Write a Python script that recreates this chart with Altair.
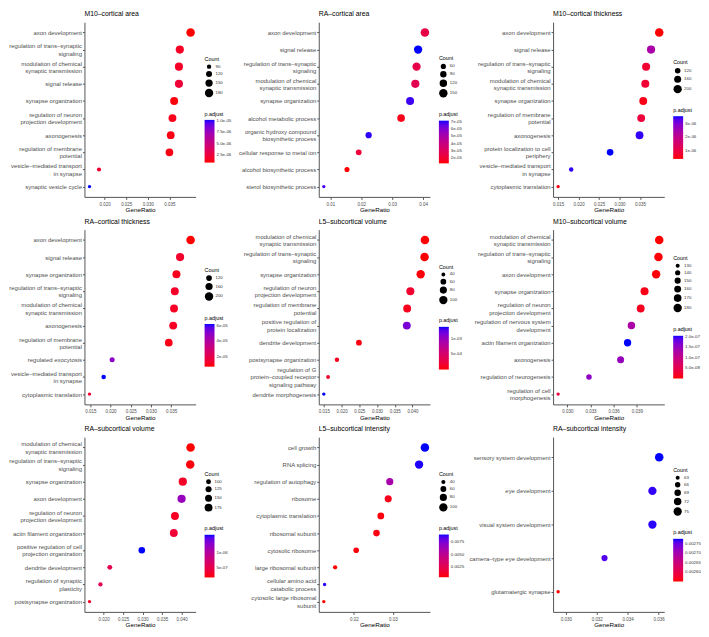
import math
import altair as alt
import pandas as pd

# ---------------- data ----------------
titles = ["M10–cortical area", "RA–cortical area", "M10–cortical thickness",
          "RA–cortical thickness", "L5–subcortical volume", "M10–subcortical volume",
          "RA–subcortical volume", "L5–subcortical intensity", "RA–subcortical intensity"]

terms_1 = ["axon development", "regulation of trans–synaptic|signaling",
           "modulation of chemical|synaptic transmission", "signal release",
           "synapse organization", "regulation of neuron|projection development",
           "axonogenesis", "regulation of membrane|potential",
           "vesicle–mediated transport|in synapse", "synaptic vesicle cycle"]
ratio_1 = [0.0399, 0.0374, 0.0372, 0.0372, 0.0361, 0.0357, 0.0353, 0.0350, 0.0187, 0.0165]
count_1 = [185, 174, 173, 173, 168, 166, 164, 162, 87, 77]
padj_1 = [8e-07, 1.6e-06, 1.6e-06, 2.2e-06, 1.0e-06, 1.3e-06, 1.1e-06, 1.2e-06, 2.0e-06, 1.02e-05]

terms_2 = ["axon development", "signal release", "regulation of trans–synaptic|signaling",
           "modulation of chemical|synaptic transmission", "synapse organization",
           "alcohol metabolic process", "organic hydroxy compound|biosynthetic process",
           "cellular response to metal ion", "alcohol biosynthetic process",
           "sterol biosynthetic process"]
ratio_2 = [0.0406, 0.0384, 0.0379, 0.0375, 0.0358, 0.0329, 0.0224, 0.0192, 0.0154, 0.0079]
count_2 = [155, 147, 145, 143, 137, 126, 86, 73, 59, 30]
padj_2 = [2.6e-05, 7.13e-05, 2.6e-05, 2.8e-05, 6.9e-05, 1.6e-05, 7.0e-05, 2.3e-05, 1.33e-05, 6.8e-05]

terms_3 = ["axon development", "signal release", "regulation of trans–synaptic|signaling",
           "modulation of chemical|synaptic transmission", "synapse organization",
           "regulation of membrane|potential", "axonogenesis",
           "protein localization to cell|periphery", "vesicle–mediated transport|in synapse",
           "cytoplasmic translation"]
ratio_3 = [0.0397, 0.0377, 0.0365, 0.0363, 0.0358, 0.0353, 0.0349, 0.0277, 0.0182, 0.0150]
count_3 = [210, 199, 193, 192, 189, 187, 185, 147, 96, 79]
padj_3 = [3.7e-07, 2.4e-06, 8e-07, 8e-07, 5e-07, 9e-07, 3.5e-06, 3.58e-06, 3.5e-06, 4.5e-07]

terms_4 = ["axon development", "signal release", "synapse organization",
           "regulation of trans–synaptic|signaling", "modulation of chemical|synaptic transmission",
           "axonogenesis", "regulation of membrane|potential", "regulated exocytosis",
           "vesicle–mediated transport|in synapse", "cytoplasmic translation"]
ratio_4 = [0.0398, 0.0372, 0.0363, 0.0359, 0.0357, 0.0355, 0.0344, 0.0204, 0.0183, 0.0148]
count_4 = [205, 192, 187, 185, 184, 183, 177, 105, 94, 76]
padj_4 = [6.7e-06, 1.3e-05, 1.0e-05, 1.2e-05, 1.1e-05, 1.1e-05, 9e-06, 5.0e-05, 6.3e-05, 1.4e-05]

terms_5 = ["modulation of chemical|synaptic transmission", "regulation of trans–synaptic|signaling",
           "synapse organization", "regulation of neuron|projection development",
           "regulation of membrane|potential", "positive regulation of|protein localization",
           "dendrite development", "postsynapse organization",
           "regulation of G|protein–coupled receptor|signaling pathway", "dendrite morphogenesis"]
ratio_5 = [0.0435, 0.0434, 0.0423, 0.0394, 0.0385, 0.0384, 0.0249, 0.0187, 0.0162, 0.0150]
count_5 = [105, 105, 102, 95, 93, 93, 60, 45, 39, 36]
padj_5 = [3e-05, 2e-05, 4e-05, 1.8e-04, 1.0e-04, 1.15e-03, 6e-05, 1.2e-04, 1.5e-04, 1.375e-03]

terms_6 = ["modulation of chemical|synaptic transmission", "regulation of trans–synaptic|signaling",
           "axon development", "synapse organization", "regulation of neuron|projection development",
           "regulation of nervous system|development", "actin filament organization",
           "axonogenesis", "regulation of neurogenesis", "regulation of cell|morphogenesis"]
ratio_6 = [0.0419, 0.0418, 0.0415, 0.0400, 0.0395, 0.0383, 0.0378, 0.0369, 0.0328, 0.0288]
count_6 = [183, 183, 181, 175, 173, 167, 165, 161, 143, 126]
padj_6 = [2e-09, 3e-09, 5e-09, 1e-08, 1.5e-08, 1.3e-07, 2.05e-07, 1.5e-07, 1.55e-07, 4e-08]

terms_7 = ["modulation of chemical|synaptic transmission", "regulation of trans–synaptic|signaling",
           "synapse organization", "axon development", "regulation of neuron|projection development",
           "actin filament organization", "positive regulation of cell|projection organization",
           "dendrite development", "regulation of synaptic|plasticity", "postsynapse organization"]
ratio_7 = [0.0423, 0.0422, 0.0403, 0.0400, 0.0383, 0.0380, 0.0298, 0.0216, 0.0192, 0.0164]
count_7 = [197, 196, 187, 186, 178, 177, 139, 100, 89, 76]
padj_7 = [1.7e-07, 2e-07, 3e-07, 1.2e-06, 2.8e-07, 3.8e-07, 1.59e-06, 5e-07, 5.5e-07, 3e-07]

terms_8 = ["cell growth", "RNA splicing", "regulation of autophagy", "ribosome",
           "cytoplasmic translation", "ribosomal subunit", "cytosolic ribosome",
           "large ribosomal subunit", "cellular amino acid|catabolic process",
           "cytosolic large ribosomal|subunit"]
ratio_8 = [0.0382, 0.0367, 0.0292, 0.0288, 0.0269, 0.0258, 0.0206, 0.0152, 0.0125, 0.0123]
count_8 = [105, 101, 80, 79, 74, 71, 57, 42, 34, 34]
padj_8 = [9.1e-03, 9.0e-03, 6.0e-03, 8e-04, 5e-04, 6e-04, 5e-04, 4e-04, 8.9e-03, 3.4e-04]

terms_9 = ["sensory system development", "eye development", "visual system development",
           "camera–type eye development", "glutamatergic synapse"]
ratio_9 = [0.03604, 0.0356, 0.0356, 0.0325, 0.0295]
count_9 = [76, 75, 75, 68, 62]
padj_9 = [0.002776, 0.00277, 0.002772, 0.00276, 0.00255]

# axis tick values and legend break values
xticks = [[0.020, 0.025, 0.030, 0.035], [0.01, 0.02, 0.03, 0.04],
          [0.015, 0.020, 0.025, 0.030, 0.035], [0.015, 0.020, 0.025, 0.030, 0.035],
          [0.015, 0.020, 0.025, 0.030, 0.035, 0.040], [0.030, 0.033, 0.036, 0.039],
          [0.020, 0.025, 0.030, 0.035, 0.040], [0.02, 0.03], [0.030, 0.032, 0.034, 0.036]]
xfmt = [".3f", ".2f", ".3f", ".3f", ".3f", ".3f", ".3f", ".2f", ".3f"]
count_breaks = [[90, 120, 150, 180], [60, 90, 120, 150], [120, 160, 200], [120, 160, 200],
                [40, 60, 80, 100], [130, 140, 150, 160, 170, 180], [100, 125, 150, 175],
                [40, 60, 80, 100], [63, 66, 69, 72, 75]]
padj_breaks = [[2.5e-06, 5e-06, 7.5e-06, 1e-05], [2e-05, 3e-05, 4e-05, 5e-05, 6e-05, 7e-05],
               [1e-06, 2e-06, 3e-06], [2e-05, 4e-05, 6e-05], [5e-04, 1e-03],
               [5e-08, 1e-07, 1.5e-07, 2e-07], [5e-07, 1e-06], [0.0025, 0.005, 0.0075],
               [0.0026, 0.00265, 0.0027, 0.00275]]
padj_fmt = [".1e", ".0e", ".0e", ".0e", ".0e", ".1e", ".0e", ".4f", ".5f"]

all_terms = [terms_1, terms_2, terms_3, terms_4, terms_5, terms_6, terms_7, terms_8, terms_9]
all_ratio = [ratio_1, ratio_2, ratio_3, ratio_4, ratio_5, ratio_6, ratio_7, ratio_8, ratio_9]
all_count = [count_1, count_2, count_3, count_4, count_5, count_6, count_7, count_8, count_9]
all_padj = [padj_1, padj_2, padj_3, padj_4, padj_5, padj_6, padj_7, padj_8, padj_9]

# ---------------- layout ----------------
W, H = 112, 176
FONT = "Liberation Sans"
SIZE_RANGE = [12, 74]
AXIS_COL = "#555555"
LAB_COL = "#4d4d4d"
LINE_H = 7.3

# centre multi-line y labels on their tick
label_offset = {
    "condition": [
        {"test": "length(split(datum.value, '|')) == 3", "value": -LINE_H},
        {"test": "length(split(datum.value, '|')) == 2", "value": -LINE_H / 2},
    ],
    "value": 0,
}


def legend_positions(counts, breaks):
    cmin, cmax = min(counts), max(counts)
    diams = []
    for v in breaks:
        t = (v - cmin) / (cmax - cmin)
        area = SIZE_RANGE[0] + t * (SIZE_RANGE[1] - SIZE_RANGE[0])
        diams.append(2 * math.sqrt(area / math.pi))
    count_h = 8 + sum(diams) + 1.5 * (len(breaks) - 1)
    gap = 13
    color_h = 51
    top = (H - (count_h + gap + color_h)) / 2
    return top, top + count_h + gap


charts = []
for i in range(9):
    df = pd.DataFrame({"term": all_terms[i], "ratio": all_ratio[i],
                       "count": all_count[i], "padj": all_padj[i]})
    lo, hi = min(all_ratio[i]), max(all_ratio[i])
    ext = 0.05 * (hi - lo)
    y_size, y_col = legend_positions(all_count[i], count_breaks[i])
    if padj_fmt[i].endswith("e"):
        lab_expr = f"replace(format(datum.value, '{padj_fmt[i]}'), 'e-', 'e-0')"
    else:
        lab_expr = f"format(datum.value, '{padj_fmt[i]}')"

    ch = alt.Chart(df).mark_circle(opacity=1).encode(
        x=alt.X("ratio:Q",
                scale=alt.Scale(domain=[lo - ext, hi + ext], nice=False, zero=False),
                axis=alt.Axis(values=xticks[i], format=xfmt[i], title="GeneRatio",
                              labelFontSize=4.5, titleFontSize=6.3, tickSize=2.5,
                              labelPadding=2, titlePadding=1, labelColor=LAB_COL,
                              titleColor="black", titleFontWeight="normal",
                              domainColor=AXIS_COL, tickColor=AXIS_COL, grid=False,
                              labelFlush=False, labelFont=FONT, titleFont=FONT)),
        y=alt.Y("term:N", sort=all_terms[i], scale=alt.Scale(padding=0.6),
                axis=alt.Axis(title=None, labelExpr="split(datum.label, '|')",
                              labelFontSize=6, labelLineHeight=LINE_H, labelColor=LAB_COL,
                              labelOffset=label_offset,
                              tickSize=2, labelPadding=1, domainColor=AXIS_COL,
                              tickColor=AXIS_COL, grid=False, labelLimit=300,
                              labelFont=FONT)),
        size=alt.Size("count:Q", scale=alt.Scale(range=SIZE_RANGE, zero=False),
                      legend=alt.Legend(title="Count", values=count_breaks[i], orient="none",
                                        legendX=W + 9, legendY=y_size, symbolType="circle",
                                        symbolFillColor="black", symbolStrokeWidth=0,
                                        symbolOpacity=1, titleFontSize=5.4,
                                        titleFontWeight="normal", titleColor="black",
                                        labelFontSize=4.4, labelColor="#333333",
                                        rowPadding=1.5, labelOffset=2, titlePadding=2,
                                        padding=0, labelFont=FONT, titleFont=FONT)),
        color=alt.Color("padj:Q", scale=alt.Scale(range=["#ff0000", "#0000ff"],
                                                  interpolate="lab", zero=False),
                        legend=alt.Legend(title="p.adjust", values=padj_breaks[i],
                                          labelExpr=lab_expr, orient="none",
                                          legendX=W + 9, legendY=y_col,
                                          gradientLength=43, gradientThickness=10,
                                          gradientStrokeWidth=0, titleFontSize=5.4,
                                          titleFontWeight="normal", titleColor="black",
                                          labelFontSize=4.4, labelColor="#333333",
                                          labelOverlap=False, labelOffset=2,
                                          titlePadding=3, padding=0, direction="vertical",
                                          labelFont=FONT, titleFont=FONT)),
    ).properties(
        width=W, height=H,
        title=alt.TitleParams(text=titles[i], anchor="start", frame="group",
                              fontSize=6.9, fontWeight="normal", color="black",
                              offset=4, font=FONT),
    )
    charts.append(ch)

chart = alt.concat(*charts, columns=3, spacing={"row": 33, "column": 124},
                   bounds="flush").resolve_scale(
    x="independent", y="independent", size="independent", color="independent"
).resolve_legend(size="independent", color="independent").properties(
    padding=0
).configure(font=FONT).configure_view(stroke=None).configure_legend(
    gradientVerticalMinLength=43
)

chart.save("out.html", embed_options={"renderer": "svg", "actions": False})
